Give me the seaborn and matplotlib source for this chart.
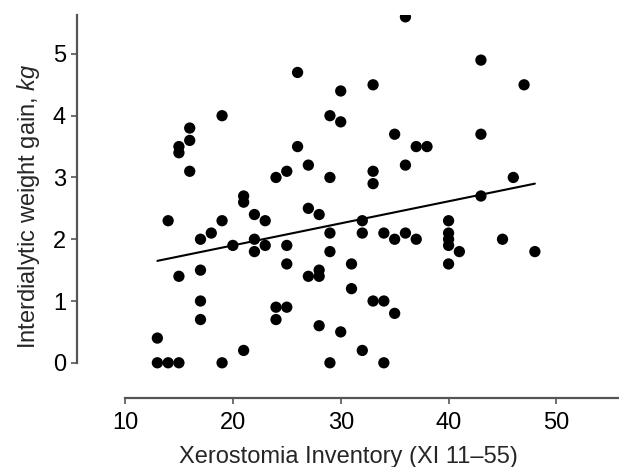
#!/usr/bin/env python3
"""
Scatter of interdialytic weight gain against Xerostomia Inventory score.
"""

import matplotlib
matplotlib.use("Agg")
import matplotlib.pyplot as plt
import seaborn as sns
import pandas as pd

# Values
xi_score = [19, 16, 16, 15, 15, 16, 24, 21, 21, 36,
            43, 26, 47, 33, 30, 29, 30, 35, 43, 26,
            37, 38, 27, 36, 25, 29, 33, 33, 46, 43,
            14, 19, 22, 23, 18, 17, 20, 22, 22, 23,
            17, 15, 17, 17, 13, 13, 14, 15, 19, 21,
            27, 28, 29, 32, 32, 34, 35, 36, 37, 40,
            40, 40, 40, 41, 40, 45, 48, 25, 25, 29,
            31, 27, 28, 28, 31, 24, 25, 24, 33, 34,
            35, 28, 30, 32, 29, 34]
weight_gain = [4.0, 3.8, 3.6, 3.5, 3.4, 3.1, 3.0, 2.7, 2.6, 5.6,
               4.9, 4.7, 4.5, 4.5, 4.4, 4.0, 3.9, 3.7, 3.7, 3.5,
               3.5, 3.5, 3.2, 3.2, 3.1, 3.0, 3.1, 2.9, 3.0, 2.7,
               2.3, 2.3, 2.4, 2.3, 2.1, 2.0, 1.9, 2.0, 1.8, 1.9,
               1.5, 1.4, 1.0, 0.7, 0.4, 0.0, 0.0, 0.0, 0.0, 0.2,
               2.5, 2.4, 2.1, 2.3, 2.1, 2.1, 2.0, 2.1, 2.0, 2.3,
               2.1, 2.0, 1.9, 1.8, 1.6, 2.0, 1.8, 1.9, 1.6, 1.8,
               1.6, 1.4, 1.5, 1.4, 1.2, 0.9, 0.9, 0.7, 1.0, 1.0,
               0.8, 0.6, 0.5, 0.2, 0.0, 0.0]

# Fitted regression line end points
fit_x = [13, 48]
fit_y = [1.65, 2.9]

x_ticks = [10, 20, 30, 40, 50]
y_ticks = [0, 1, 2, 3, 4, 5]

sns.set_style("ticks")
plt.rcParams["font.family"] = ["Liberation Sans", "DejaVu Sans"]
plt.rcParams["mathtext.fontset"] = "custom"
plt.rcParams["mathtext.it"] = "Liberation Sans:italic"
plt.rcParams["mathtext.rm"] = "Liberation Sans"

df = pd.DataFrame({"xi": xi_score, "gain": weight_gain})
fit = pd.DataFrame({"xi": fit_x, "gain": fit_y})

fig = plt.figure(figsize=(6.19, 4.67), dpi=100)
ax = fig.add_axes([77 / 619, 69 / 467, 542 / 619, 383 / 467])

sns.scatterplot(data=df, x="xi", y="gain", ax=ax, color="black",
                s=66, edgecolor="none", zorder=3)
sns.lineplot(data=fit, x="xi", y="gain", ax=ax, color="black",
             linewidth=1.5, zorder=2)

ax.set_xlim(5.55, 55.8)
ax.set_ylim(-0.57, 5.63)
ax.set_xticks(x_ticks)
ax.set_yticks(y_ticks)

axis_color = "#555555"
for side in ["top", "right"]:
    ax.spines[side].set_visible(False)
ax.spines["left"].set_bounds(0, 5.63)
ax.spines["bottom"].set_bounds(10, 55.8)
for side in ["left", "bottom"]:
    ax.spines[side].set_color(axis_color)
    ax.spines[side].set_linewidth(1.6)

ax.tick_params(axis="both", colors=axis_color, labelcolor="black",
               labelsize=17, length=4, width=1.2)
ax.tick_params(axis="x", pad=6)
ax.tick_params(axis="y", pad=4)

ax.set_xlabel("Xerostomia Inventory (XI 11\u201355)", fontsize=17, labelpad=9)
ax.set_ylabel(r"Interdialytic weight gain, $\it{kg}$", fontsize=17, labelpad=8)

fig.savefig("out.png", dpi=100)
plt.close(fig)
